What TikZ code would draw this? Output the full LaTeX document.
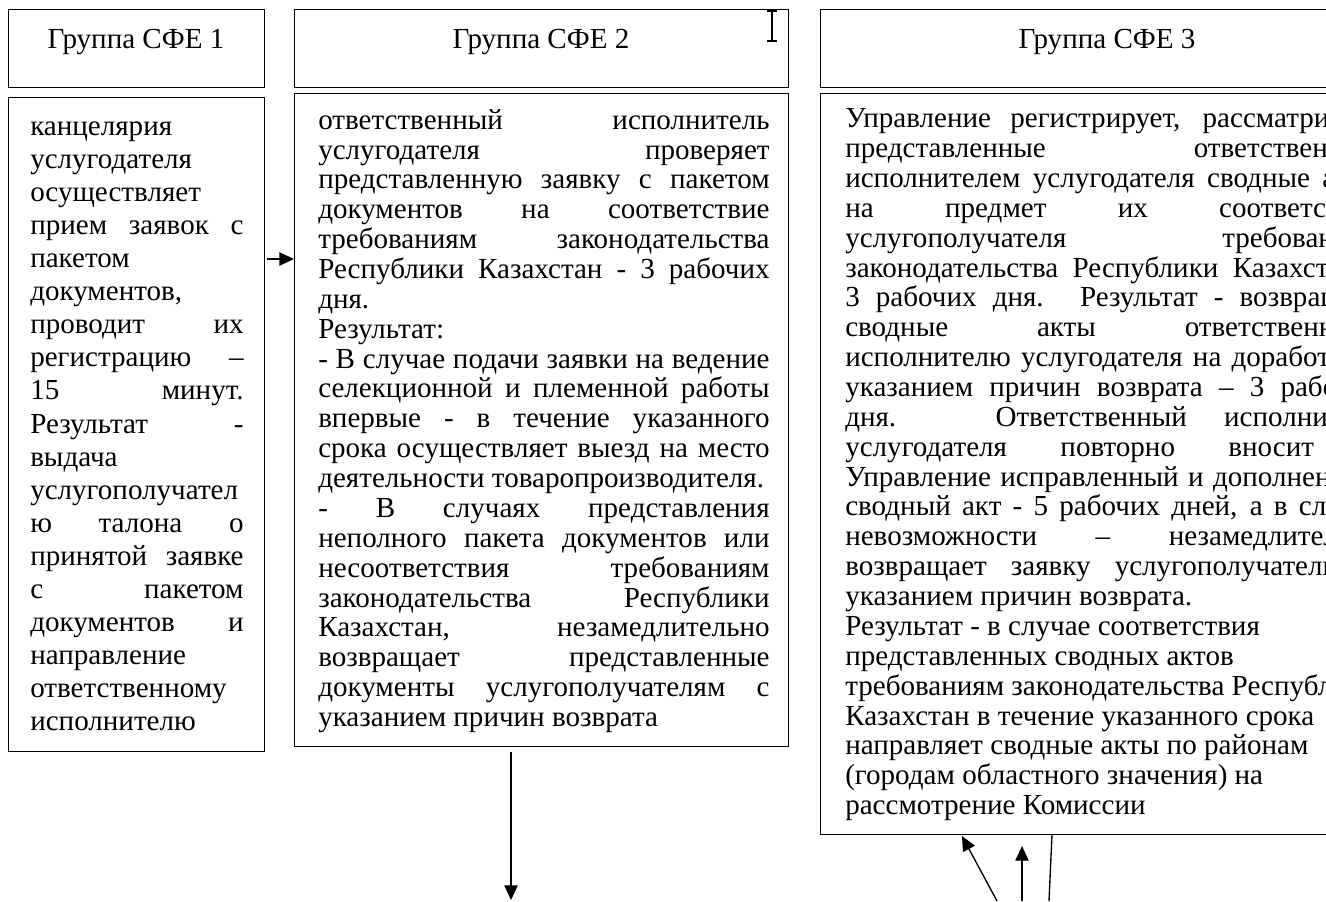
\documentclass[tikz,border=0pt]{standalone}
\usepackage{fontspec}
\setmainfont{Liberation Serif}
\usetikzlibrary{arrows.meta}

\tolerance=10000
\hyphenpenalty=10000

\tikzset{
  box/.style={draw, line width=1.1pt, anchor=north west, inner sep=0pt},
  ttl/.style={inner sep=0pt, font=\fontsize{21.8}{22.4}\selectfont},
  txt/.style={anchor=north west, inner sep=0pt, align=justify,
    font=\fontsize{21.8}{22.4}\selectfont},
  arr/.style={-{Triangle[length=11pt,width=10pt]}, line width=1pt},
}

\begin{document}
\begin{tikzpicture}[x=0.75pt, y=-0.75pt]
\useasboundingbox (0,0) rectangle (1326,901);
\clip (0,0) rectangle (1326,901);

% group headers
\node[box, minimum width=192pt, minimum height=58.5pt] (t1) at (8,9) {};
\node[box, minimum width=370.5pt, minimum height=58.5pt] (t2) at (294,9) {};
\node[box, minimum width=431.25pt, minimum height=58.5pt] (t3) at (820,9) {};
\node[ttl] (h1) at (136,42) {Группа СФЕ 1};
\node[ttl] (h2) at (541,42) {Группа СФЕ 2};
\node[ttl] (h3) at (1107,42) {Группа СФЕ 3};

% step boxes
\node[box, minimum width=192pt, minimum height=490.5pt] (b1) at (8,97) {};
\node[box, minimum width=370.5pt, minimum height=489.75pt] (b2) at (294,93) {};
\node[box, minimum width=431.25pt, minimum height=555.75pt] (b3) at (820,93) {};

\node[txt, text width=160pt, font=\fontsize{21.8}{24.8}\selectfont] (s1) at (30,112) {%
\strut канцелярия\linebreak
услугодателя\linebreak
осуществляет\linebreak
прием заявок с\linebreak
пакетом\linebreak
документов,\linebreak
проводит их\linebreak
регистрацию –\linebreak
15 минут.\linebreak
Результат -\linebreak
выдача\linebreak
услугополучател\linebreak
ю талона о\linebreak
принятой заявке\linebreak
с пакетом\linebreak
документов и\linebreak
направление\linebreak
ответственному\linebreak
исполнителю};

\node[txt, text width=338.5pt] (s2) at (318,108) {%
\strut ответственный исполнитель\linebreak
услугодателя проверяет\linebreak
представленную заявку с пакетом\linebreak
документов на соответствие\linebreak
требованиям законодательства\linebreak
Республики Казахстан - 3 рабочих\linebreak
дня.\\
Результат:\\
- В случае подачи заявки на ведение\linebreak
селекционной и племенной работы\linebreak
впервые - в течение указанного\linebreak
срока осуществляет выезд на место\linebreak
деятельности товаропроизводителя.\\
- В случаях представления\linebreak
неполного пакета документов или\linebreak
несоответствия требованиям\linebreak
законодательства Республики\linebreak
Казахстан, незамедлительно\linebreak
возвращает представленные\linebreak
документы услугополучателям с\linebreak
указанием причин возврата};

\node[txt, text width=402pt] (s3) at (845,106.5) {%
\strut Управление регистрирует, рассматривает\linebreak
представленные ответственным\linebreak
исполнителем услугодателя сводные акты\linebreak
на предмет их соответствия\linebreak
услугополучателя требованиям\linebreak
законодательства Республики Казахстан -\linebreak
3 рабочих дня. Результат - возвращает\linebreak
сводные акты ответственному\linebreak
исполнителю услугодателя на доработку с\linebreak
указанием причин возврата – 3 рабочих\linebreak
дня. Ответственный исполнитель\linebreak
услугодателя повторно вносит в\linebreak
Управление исправленный и дополненный\linebreak
сводный акт - 5 рабочих дней, а в случае\linebreak
невозможности – незамедлительно\linebreak
возвращает заявку услугополучателю с\linebreak
указанием причин возврата.\\
Результат - в случае соответствия\\
представленных сводных актов\\
требованиям законодательства Республики\\
Казахстан в течение указанного срока\\
направляет сводные акты по районам\\
(городам областного значения) на\\
рассмотрение Комиссии};

% text cursor
\draw[line width=0.8pt] (772,11) -- (772,41);
\draw[line width=0.8pt] (767,11) -- (777,11);
\draw[line width=0.8pt] (767,41) -- (777,41);

% connectors
\coordinate (a1) at (267,259);
\draw[arr] (a1) -- (a1 -| b2.west);

\coordinate (d2) at (511,752);
\coordinate (e2) at (511,900);
\draw[arr] (d2) -- (e2);

\coordinate (u1) at (997,901);
\coordinate (u2) at (1022,901);
\coordinate (u3) at (1049,901);
\draw[arr] (u1) -- (962,836);
\draw[arr] (u2) -- (1022,846);
\draw[line width=1pt] (u3) -- (1052,834);
\end{tikzpicture}
\end{document}
